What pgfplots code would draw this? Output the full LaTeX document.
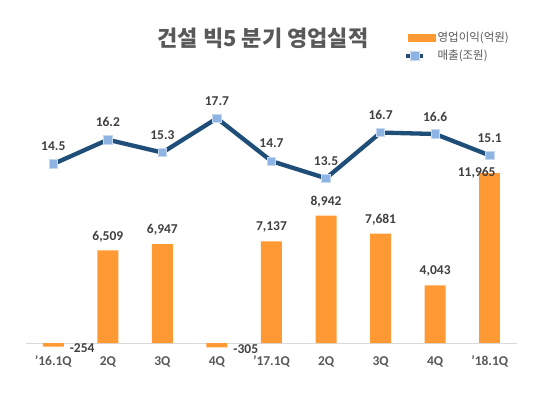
\documentclass[border=0pt]{standalone}
\usepackage{fontspec}
\setmainfont{Carlito}
\newfontfamily\kr{Noto Sans CJK KR}
\usepackage{pgfplots}
\pgfplotsset{compat=1.18}
\definecolor{barc}{HTML}{FF9933}
\definecolor{linec}{HTML}{1F4E79}
\definecolor{markc}{HTML}{8EB4E3}
\definecolor{markb}{HTML}{C6D9F1}
\definecolor{txt}{HTML}{404040}
\definecolor{ttl}{HTML}{595959}
\begin{document}
\begin{tikzpicture}[x=1pt,y=1pt]
\useasboundingbox[fill=white] (0,0) rectangle (560,394);
\node[font=\kr\bfseries\fontsize{22}{25}\selectfont, text=ttl] at (263,355.5) {건설 빅5 분기 영업실적};
\begin{axis}[
 at={(26pt,51pt)}, anchor=south west, scale only axis, width=491pt, height=253pt,
 xmin=-0.5, xmax=8.5, ymin=0, ymax=17767,
 axis x line*=bottom, axis y line=none,
 x axis line style={draw=black!15, line width=1pt, -},
 xtick={0,...,8}, xticklabels={’16.1Q,2Q,3Q,4Q,’17.1Q,2Q,3Q,4Q,’18.1Q},
 major tick length=0pt,
 xticklabel style={font=\bfseries\fontsize{13.5}{15}\selectfont, text=ttl, anchor=center, yshift=-18.5pt},
 ytick=\empty,
 clip=false,
 ybar, bar width=21pt,
 /pgf/bar shift=0pt,
 /pgf/number format/assume math mode=true,
 /pgf/number format/1000 sep={,},
 nodes near coords style={font=\bfseries\fontsize{13.5}{15}\selectfont, text=txt},
]
\addplot[fill=barc, draw=none, nodes near coords, nodes near coords style={anchor=center, yshift=14pt}]
 coordinates {(1,6509) (2,6947) (4,7137) (5,8942) (6,7681) (7,4043)};
\addplot[fill=barc, draw=none, nodes near coords, nodes near coords style={anchor=center, xshift=-13pt, yshift=0pt}]
 coordinates {(8,11965)};
\addplot[fill=barc, draw=none, nodes near coords, nodes near coords style={anchor=west, xshift=13pt, yshift=-2pt}]
 coordinates {(0,-254) (3,-305)};
\end{axis}
\begin{axis}[
 at={(26pt,51pt)}, anchor=south west, scale only axis, width=491pt, height=253pt,
 xmin=-0.5, xmax=8.5, ymin=1.97, ymax=19.68,
 axis lines=none, clip=false,
 /pgf/number format/assume math mode=true,
 legend style={at={(0.770,1.237)}, anchor=north west, draw=none, fill=none,
   font=\kr\fontsize{11.5}{13}\selectfont, text=ttl, row sep=3pt, inner sep=0pt},
 legend cell align=left,
]
\addlegendimage{legend image code/.code={\fill[barc] (2pt,-3.7pt) rectangle (29pt,3.7pt);}}
\addlegendentry{영업이익(억원)}
\addplot[linec, line width=4.3pt, mark=square*, mark size=4.2pt,
  mark options={fill=markc, draw=markb, line width=0.8pt},
  nodes near coords, nodes near coords style={anchor=center, yshift=17.5pt, font=\bfseries\fontsize{13.5}{15}\selectfont, text=txt},
  /pgf/number format/.cd, fixed, fixed zerofill, precision=1, /tikz/.cd,
  legend image code/.code={\draw[line width=4.3pt, draw=linec, line cap=round] (2.15pt,0pt) -- (27.85pt,0pt);
     \fill[markc] (12pt,-3pt) rectangle (18pt,3pt);}]
 coordinates {(0,14.5) (1,16.2) (2,15.3) (3,17.7) (4,14.7) (5,13.5) (6,16.7) (7,16.6) (8,15.1)};
\addlegendentry{매출(조원)}
\end{axis}
\end{tikzpicture}
\end{document}
